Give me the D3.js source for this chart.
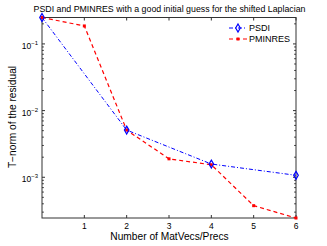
<!DOCTYPE html>
<html>
<head>
<meta charset="utf-8">
<script src="https://cdn.jsdelivr.net/npm/d3@7"></script>
<style>
  body { margin: 0; background: #fff; }
  text { font-family: "Liberation Sans", Arial, sans-serif; fill: #000; }
</style>
</head>
<body>
<div id="chart"></div>
<script>
// data
const iterations = [0, 1, 2, 3, 4, 5, 6];
const psdiIter = [0, 2, 4, 6];
const psdiValues = [0.249, 0.0051, 0.00158, 0.00107];
const pminresValues = [0.249, 0.186, 0.0051, 0.00189, 0.00154, 0.000375, 0.000245];
const xTicks = [1, 2, 3, 4, 5, 6];
const yTicks = [-1, -2, -3];
const seriesNames = ['PSDI', 'PMINRES'];

const FIGURE = { WIDTH: 327, HEIGHT: 246 };
const MARGINS = { LEFT: 42, TOP: 17.5, RIGHT: 31, BOTTOM: 28 };
const PLOT = {
    WIDTH: FIGURE.WIDTH - MARGINS.LEFT - MARGINS.RIGHT,
    HEIGHT: FIGURE.HEIGHT - MARGINS.TOP - MARGINS.BOTTOM
};

const x = d3.scaleLinear().domain([0, 6]).range([0, PLOT.WIDTH]);
const y = d3.scaleLog()
    .domain([d3.min(pminresValues), d3.max(pminresValues)])
    .range([PLOT.HEIGHT, 0]);

const svg = d3.select('#chart').append('svg')
    .attr('width', FIGURE.WIDTH)
    .attr('height', FIGURE.HEIGHT);

svg.append('text')
    .attr('x', 169.5)
    .attr('y', 12)
    .attr('text-anchor', 'middle')
    .style('font-size', '8.8px')
    .text('PSDI and PMINRES with a good initial guess for the shifted Laplacian');

const plot = svg.append('g')
    .attr('transform', `translate(${MARGINS.LEFT}, ${MARGINS.TOP})`);

// box
plot.append('rect')
    .attr('width', PLOT.WIDTH)
    .attr('height', PLOT.HEIGHT)
    .attr('fill', 'none')
    .attr('stroke', '#333')
    .attr('stroke-width', 1);

// x ticks (bottom and top, inward)
xTicks.forEach(t => {
    plot.append('line')
        .attr('x1', x(t)).attr('x2', x(t))
        .attr('y1', PLOT.HEIGHT).attr('y2', PLOT.HEIGHT - 3)
        .attr('stroke', '#333');
    plot.append('line')
        .attr('x1', x(t)).attr('x2', x(t))
        .attr('y1', 0).attr('y2', 3)
        .attr('stroke', '#333');
    plot.append('text')
        .attr('x', x(t))
        .attr('y', PLOT.HEIGHT + 10.5)
        .attr('text-anchor', 'middle')
        .style('font-size', '8.5px')
        .text(t);
});

// y ticks, major + minor, both sides
const [lo, hi] = y.domain();
for (let e = -4; e <= 0; e++) {
    for (let m = 1; m <= 9; m++) {
        const v = m * Math.pow(10, e);
        if (v < lo || v > hi) continue;
        const len = m === 1 ? 3 : 1.8;
        plot.append('line')
            .attr('x1', 0).attr('x2', len)
            .attr('y1', y(v)).attr('y2', y(v))
            .attr('stroke', '#333');
        plot.append('line')
            .attr('x1', PLOT.WIDTH).attr('x2', PLOT.WIDTH - len)
            .attr('y1', y(v)).attr('y2', y(v))
            .attr('stroke', '#333');
    }
}
yTicks.forEach(e => {
    const t = plot.append('text')
        .attr('x', -4)
        .attr('y', y(Math.pow(10, e)) + 5)
        .attr('text-anchor', 'end')
        .style('font-size', '8.5px');
    t.append('tspan').text('10');
    t.append('tspan')
        .attr('dy', -4)
        .style('font-size', '6px')
        .text('\u2212' + Math.abs(e));
});

// axis labels
svg.append('text')
    .attr('x', 169.5)
    .attr('y', 240)
    .attr('text-anchor', 'middle')
    .style('font-size', '10.2px')
    .text('Number of MatVecs/Precs');

svg.append('text')
    .attr('transform', 'translate(16, 117) rotate(-90)')
    .attr('text-anchor', 'middle')
    .style('font-size', '10.2px')
    .text('T\u2212norm of the residual');

const line = d3.line().x(d => x(d[0])).y(d => y(d[1]));
const psdi = psdiIter.map((d, i) => [d, psdiValues[i]]);
const pminres = iterations.map((d, i) => [d, pminresValues[i]]);

plot.append('path')
    .datum(psdi)
    .attr('d', line)
    .attr('fill', 'none')
    .attr('stroke', '#0000ff')
    .attr('stroke-width', 1)
    .attr('stroke-dasharray', '4,2,1,2');

plot.append('path')
    .datum(pminres)
    .attr('d', line)
    .attr('fill', 'none')
    .attr('stroke', '#ff0000')
    .attr('stroke-width', 1.2)
    .attr('stroke-dasharray', '4,3');

const diamond = d3.symbol().type(d3.symbolDiamond).size(18);
function drawDiamond(g, cx, cy) {
    g.append('path')
        .attr('d', diamond())
        .attr('transform', `translate(${cx}, ${cy})`)
        .attr('fill', 'none')
        .attr('stroke', '#0000ff')
        .attr('stroke-width', 1.2);
}
function drawSquare(g, cx, cy) {
    g.append('rect')
        .attr('x', cx - 1.5).attr('y', cy - 1.5)
        .attr('width', 3).attr('height', 3)
        .attr('fill', '#ff0000');
}

pminres.forEach(d => drawSquare(plot, x(d[0]), y(d[1])));
psdi.forEach(d => drawDiamond(plot, x(d[0]), y(d[1])));

// legend
const legend = svg.append('g');
seriesNames.forEach((name, i) => {
    const ly = 28 + i * 11;
    legend.append('line')
        .attr('x1', 229).attr('x2', 247)
        .attr('y1', ly).attr('y2', ly)
        .attr('stroke', i === 0 ? '#0000ff' : '#ff0000')
        .attr('stroke-width', i === 0 ? 1 : 1.2)
        .attr('stroke-dasharray', i === 0 ? '4,2,1,2' : '4,3');
    if (i === 0) drawDiamond(legend, 238, ly);
    else drawSquare(legend, 238, ly);
    legend.append('text')
        .attr('x', 249)
        .attr('y', ly + 3)
        .style('font-size', '9px')
        .text(name);
});
</script>
</body>
</html>
